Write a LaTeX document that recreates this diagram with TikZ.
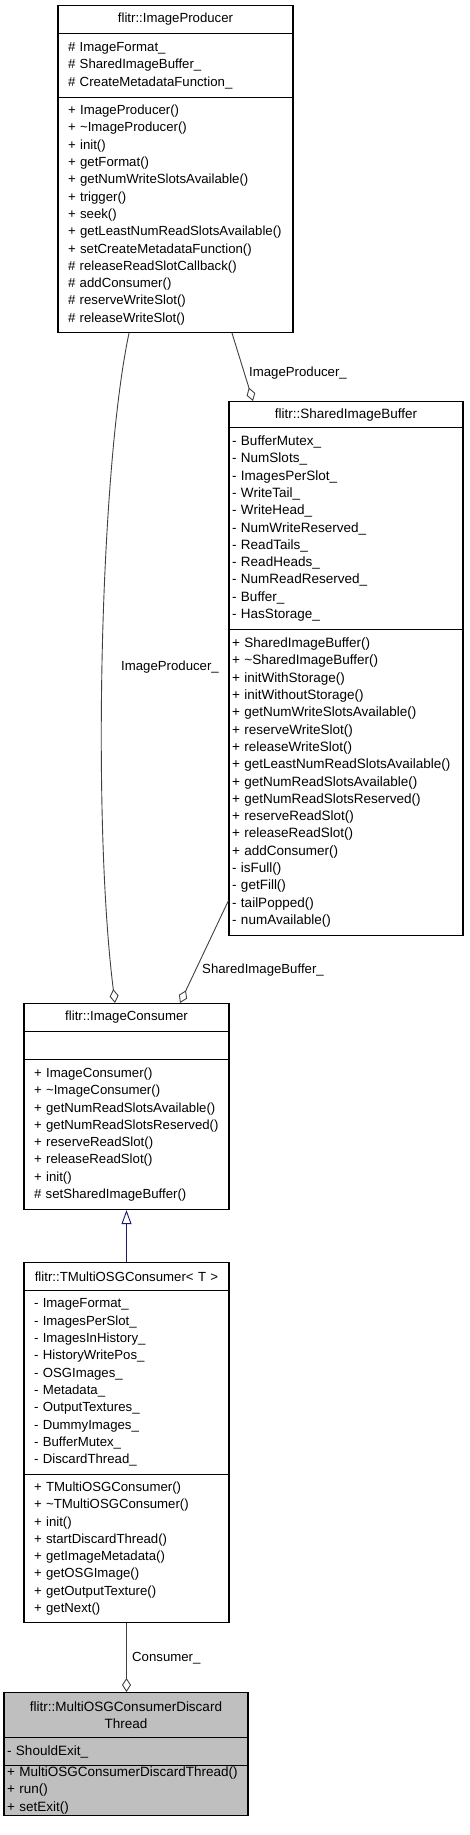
\documentclass[tikz,border=0pt]{standalone}
\usepackage{fontspec}
\setmainfont{Liberation Sans}
\usetikzlibrary{arrows.meta}

\definecolor{linkblue}{HTML}{191970}
\definecolor{edgegray}{HTML}{404040}
\definecolor{leafgray}{HTML}{BFBFBF}

\tikzset{
    box/.style={draw, line width=1.1pt, fill=white, anchor=north, inner xsep=10pt, inner ysep=0pt, font=\fontsize{13.2}{17.3}\selectfont},
    head/.style={box, align=center},
    part/.style={box, align=left},
    tight/.style={inner xsep=3pt, font=\fontsize{13.5}{17.3}\selectfont},
    agg/.style={draw=edgegray, line width=0.9pt, -{Diamond[open, length=14pt, width=9pt, line width=0.9pt]}},
    inh/.style={draw=linkblue, line width=0.9pt, -{Triangle[open, length=14pt, width=10pt, line width=0.9pt]}},
    lbl/.style={anchor=west, inner sep=0pt, font=\fontsize{13.2}{15}\selectfont},
}

\begin{document}
\begin{tikzpicture}[x=1pt, y=-1pt]
    \useasboundingbox (0, 0) rectangle (469, 1835);

    \node[head, text width=215pt, minimum height=28pt] (IPt) at (175.5, 5) {flitr::ImageProducer};
    \node[part, text width=215pt, minimum height=64pt] (IPa) at (175.5, 33) {\# ImageFormat\_\\\# SharedImageBuffer\_\\\# CreateMetadataFunction\_};
    \node[part, text width=215pt, minimum height=235pt] (IPm) at (175.5, 97) {+ ImageProducer()\\+ \textasciitilde ImageProducer()\\+ init()\\+ getFormat()\\+ getNumWriteSlotsAvailable()\\+ trigger()\\+ seek()\\+ getLeastNumReadSlotsAvailable()\\+ setCreateMetadataFunction()\\\# releaseReadSlotCallback()\\\# addConsumer()\\\# reserveWriteSlot()\\\# releaseWriteSlot()};

    \node[head, tight, text width=228pt, minimum height=26pt] (SIBt) at (346, 401) {flitr::SharedImageBuffer};
    \node[part, tight, text width=228pt, minimum height=202pt] (SIBa) at (346, 427) {- BufferMutex\_\\- NumSlots\_\\- ImagesPerSlot\_\\- WriteTail\_\\- WriteHead\_\\- NumWriteReserved\_\\- ReadTails\_\\- ReadHeads\_\\- NumReadReserved\_\\- Buffer\_\\- HasStorage\_};
    \node[part, tight, text width=228pt, minimum height=306pt] (SIBm) at (346, 629) {+ SharedImageBuffer()\\+ \textasciitilde SharedImageBuffer()\\+ initWithStorage()\\+ initWithoutStorage()\\+ getNumWriteSlotsAvailable()\\+ reserveWriteSlot()\\+ releaseWriteSlot()\\+ getLeastNumReadSlotsAvailable()\\+ getNumReadSlotsAvailable()\\+ getNumReadSlotsReserved()\\+ reserveReadSlot()\\+ releaseReadSlot()\\+ addConsumer()\\- isFull()\\- getFill()\\- tailPopped()\\- numAvailable()};

    \node[head, text width=185pt, minimum height=28pt] (ICt) at (126.5, 1003) {flitr::ImageConsumer};
    \node[part, text width=185pt, minimum height=28pt] (ICa) at (126.5, 1031) {};
    \node[part, text width=185pt, minimum height=150pt] (ICm) at (126.5, 1059) {+ ImageConsumer()\\+ \textasciitilde ImageConsumer()\\+ getNumReadSlotsAvailable()\\+ getNumReadSlotsReserved()\\+ reserveReadSlot()\\+ releaseReadSlot()\\+ init()\\\# setSharedImageBuffer()};

    \node[head, text width=185pt, minimum height=28pt] (TMCt) at (126.5, 1262) {flitr::TMultiOSGConsumer< T >};
    \node[part, text width=185pt, minimum height=184pt] (TMCa) at (126.5, 1290) {- ImageFormat\_\\- ImagesPerSlot\_\\- ImagesInHistory\_\\- HistoryWritePos\_\\- OSGImages\_\\- Metadata\_\\- OutputTextures\_\\- DummyImages\_\\- BufferMutex\_\\- DiscardThread\_};
    \node[part, text width=185pt, minimum height=148pt] (TMCm) at (126.5, 1474) {+ TMultiOSGConsumer()\\+ \textasciitilde TMultiOSGConsumer()\\+ init()\\+ startDiscardThread()\\+ getImageMetadata()\\+ getOSGImage()\\+ getOutputTexture()\\+ getNext()};

    \node[head, tight, fill=leafgray, text width=238pt, minimum height=45pt] (MDTt) at (126, 1692) {flitr::MultiOSGConsumerDiscard\\Thread};
    \node[part, tight, fill=leafgray, text width=238pt, minimum height=28pt] (MDTa) at (126, 1737) {- ShouldExit\_};
    \node[part, tight, fill=leafgray, text width=238pt, text depth=38pt, minimum height=50pt] (MDTm) at (126, 1765) {+ MultiOSGConsumerDiscardThread()\\+ run()\\+ setExit()};

    \draw[agg] ([xshift=56.5pt]IPm.south) -- ([xshift=-93pt]SIBt.north);
    \draw[agg] ([xshift=-46.5pt]IPm.south) .. controls (100, 470) and (92, 820) .. ([xshift=-11.5pt]ICt.north);
    \draw[agg] ([yshift=-118pt]SIBm.west) -- ([xshift=53.5pt]ICt.north);
    \draw[inh] (TMCt.north) -- (ICm.south);
    \draw[agg] (TMCm.south) -- (TMCm.south |- MDTt.north);

    \node[lbl] (lbProdA) at (249, 373) {ImageProducer\_};
    \node[lbl] (lbProdB) at (121, 667) {ImageProducer\_};
    \node[lbl] (lbBuf) at (202, 970) {SharedImageBuffer\_};
    \node[lbl] (lbCons) at (132, 1658) {Consumer\_};
\end{tikzpicture}
\end{document}
